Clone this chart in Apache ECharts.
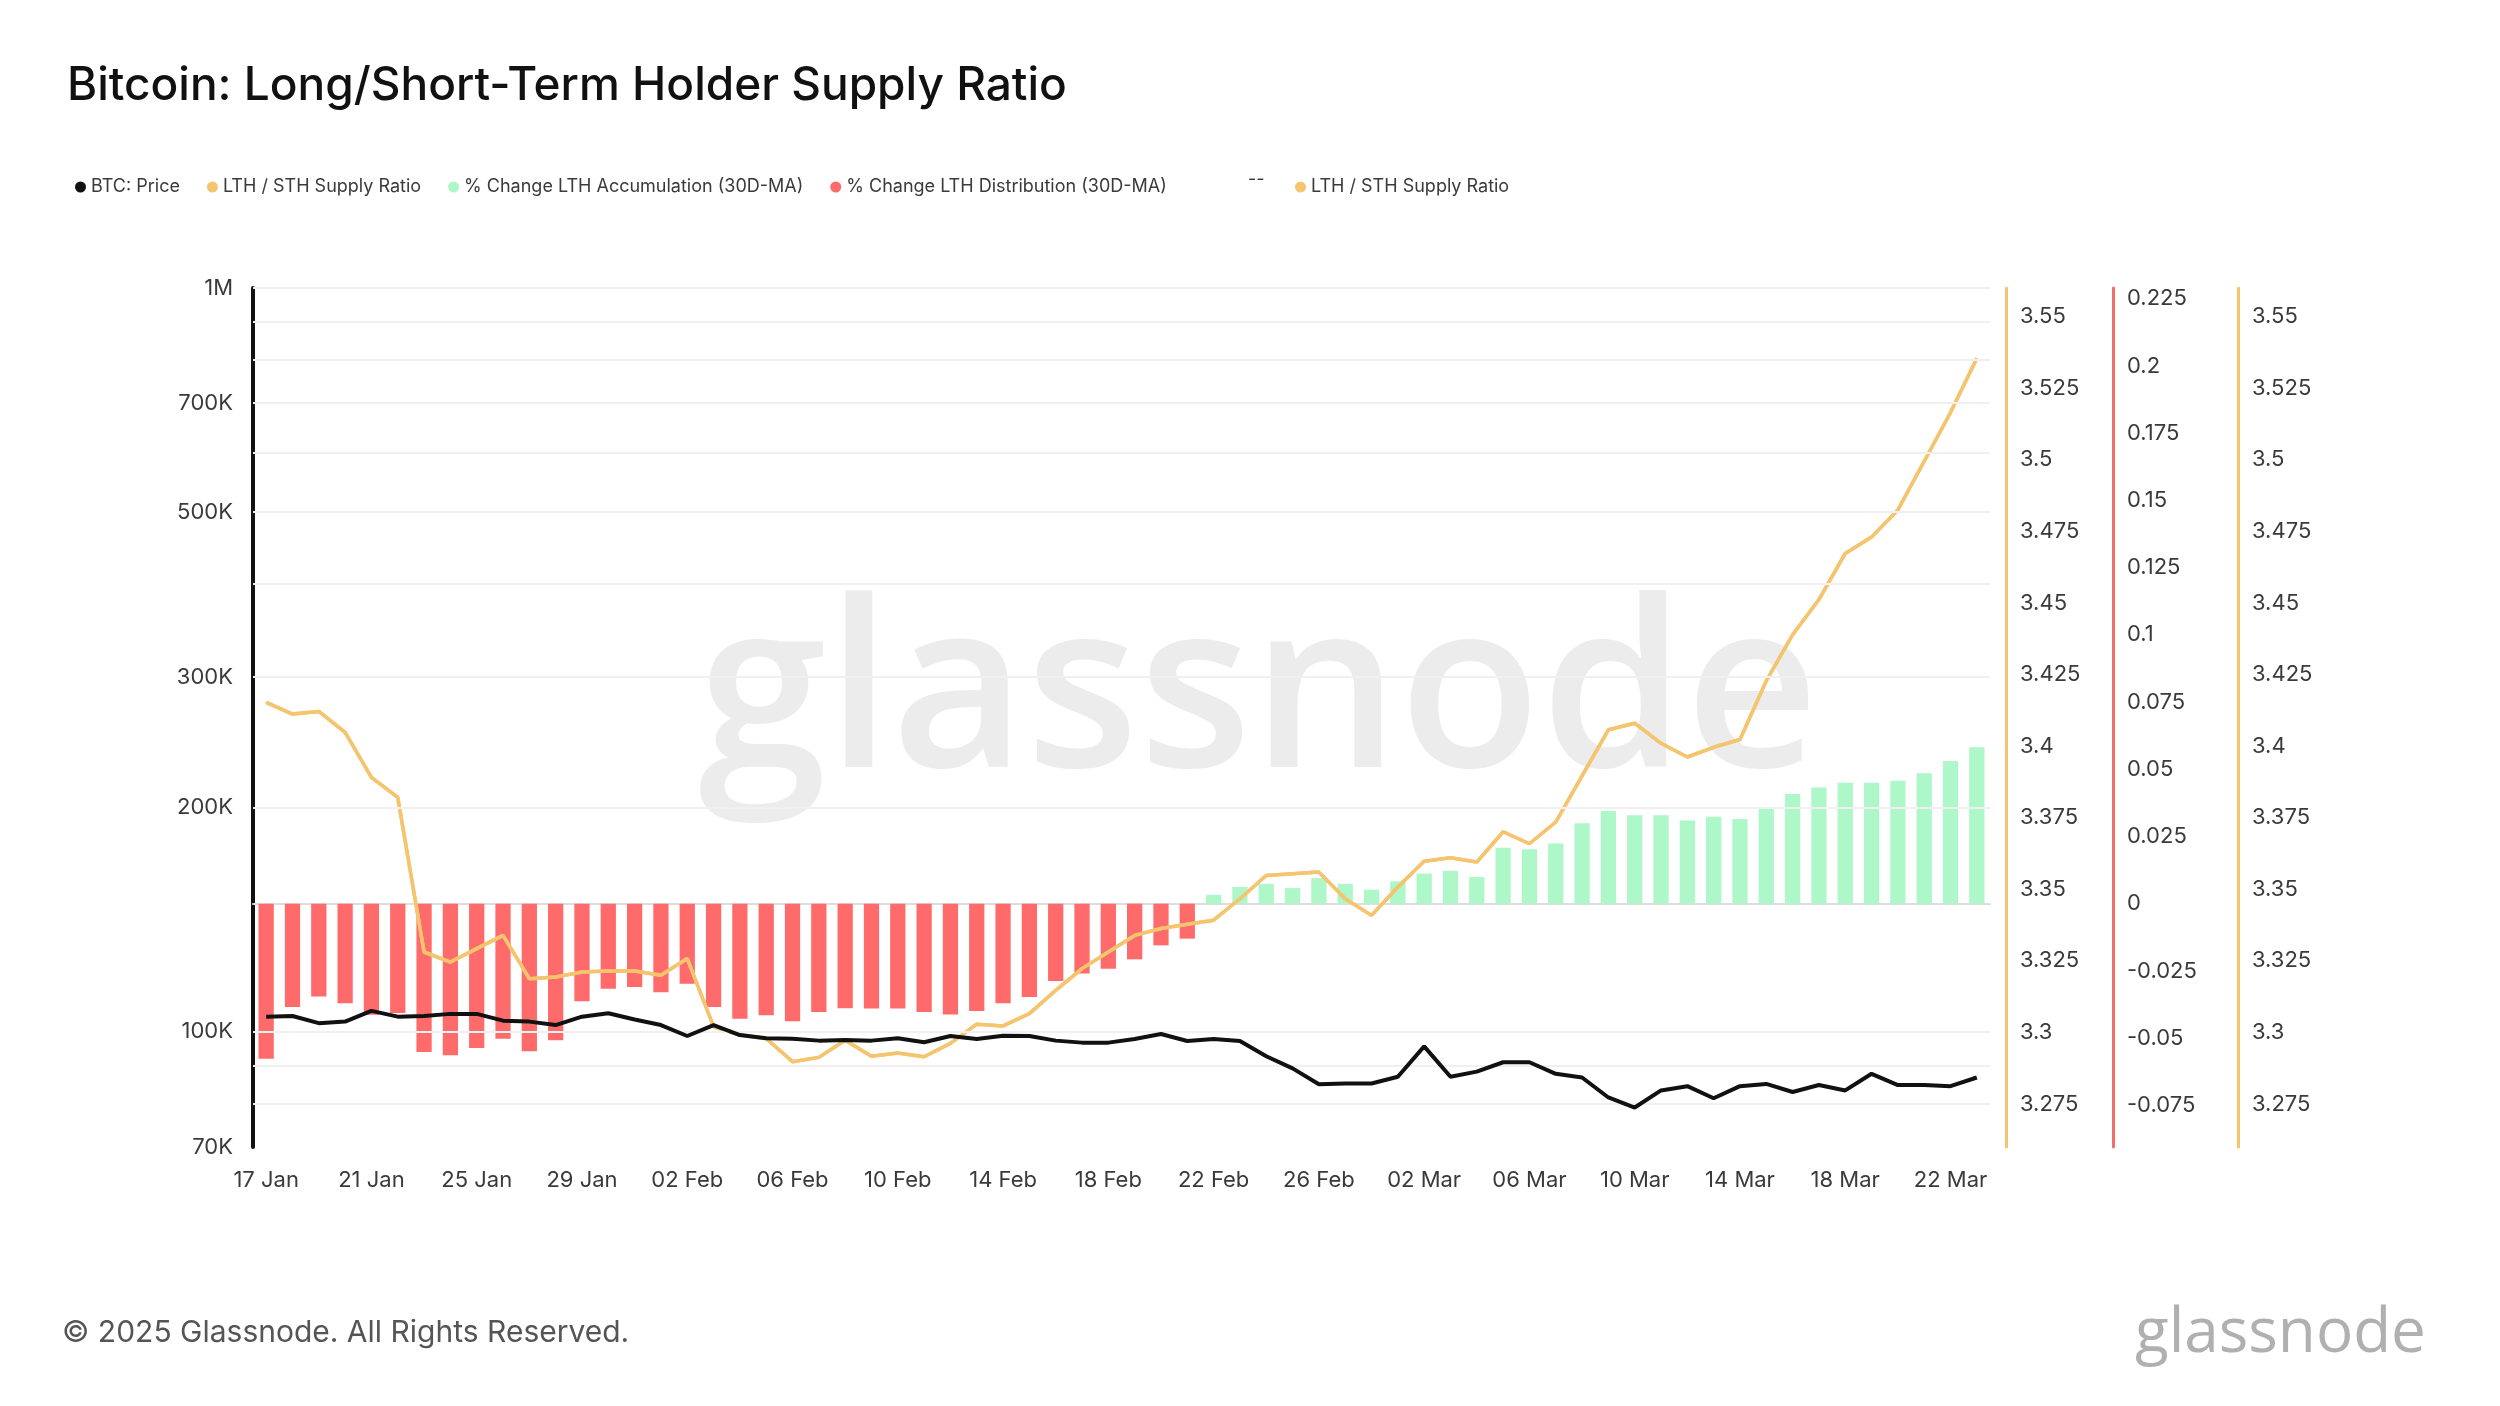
<!DOCTYPE html>
<html><head><meta charset="utf-8">
<script src="https://cdn.jsdelivr.net/npm/echarts@6/dist/echarts.min.js"></script>
<style>html,body{margin:0;padding:0;background:#fff}#c{width:2500px;height:1406px}</style>
</head><body><div id="c"></div>
<script>
const dates = [];
(function(){const m=['Jan','Feb','Mar'];let d=new Date(Date.UTC(2025,0,17));for(let i=0;i<66;i++){dates.push(String(d.getUTCDate()).padStart(2,'0')+' '+m[d.getUTCMonth()]);d.setUTCDate(d.getUTCDate()+1);}})();
const price = [104800,105000,102700,103200,106700,104800,105000,105700,105700,103500,103200,102100,104800,105900,103900,102100,98700,102100,99000,98000,97900,97300,97500,97300,98000,96800,98700,97800,98800,98700,97300,96700,96700,97800,99300,97200,97800,97200,92700,89300,85000,85200,85200,87000,95600,87000,88400,91000,91000,87800,86800,81600,79100,83400,84500,81400,84500,85100,83000,84800,83400,87800,84800,84800,84500,86800];
const ratio = [3.4153,3.4112,3.4121,3.4048,3.3891,3.3821,3.3281,3.3246,3.3293,3.3339,3.3188,3.3194,3.3211,3.3215,3.3215,3.3200,3.3258,3.3020,3.2991,3.2979,3.2898,3.2913,3.2973,3.2917,3.2928,3.2915,3.2962,3.3029,3.3023,3.3066,3.3147,3.3223,3.3281,3.3339,3.3363,3.3378,3.3392,3.3467,3.3548,3.3554,3.3560,3.3467,3.3409,3.3508,3.3598,3.3610,3.3595,3.3701,3.3659,3.3735,3.3896,3.4057,3.4080,3.4010,3.3962,3.3996,3.4023,3.4228,3.4389,3.4512,3.4673,3.4730,3.4825,3.4995,3.5165,3.5355];
const change = [-0.0577,-0.0384,-0.0345,-0.0370,-0.0413,-0.0407,-0.0552,-0.0564,-0.0537,-0.0502,-0.0549,-0.0508,-0.0363,-0.0316,-0.0310,-0.0329,-0.0298,-0.0384,-0.0428,-0.0415,-0.0437,-0.0403,-0.0389,-0.0390,-0.0390,-0.0403,-0.0412,-0.0399,-0.0370,-0.0347,-0.0288,-0.0260,-0.0242,-0.0207,-0.0155,-0.0130,0.0033,0.0062,0.0074,0.0058,0.0095,0.0074,0.0052,0.0083,0.0112,0.0122,0.0099,0.0208,0.0202,0.0224,0.0299,0.0345,0.0329,0.0329,0.0309,0.0323,0.0315,0.0358,0.0408,0.0432,0.0450,0.0450,0.0457,0.0485,0.0531,0.0582];
const priceTicks = [70000,100000,200000,300000,500000,700000,1000000];
const priceGrid = [80000,90000,100000,200000,300000,400000,500000,600000,700000,800000,900000,1000000];
const ratioTicks = [3.275,3.3,3.325,3.35,3.375,3.4,3.425,3.45,3.475,3.5,3.525,3.55];
const changeTicks = [-0.075,-0.05,-0.025,0,0.025,0.05,0.075,0.1,0.125,0.15,0.175,0.2,0.225];

const accum = change.map(v=>v>0?v:null);
const distr = change.map(v=>v<0?v:null);
const YEL='#f5c46e', RED='#ff6b6b', GRN='#adf7c9', TXT='#3a3a3a';
const F='Inter, "Noto Sans", sans-serif';
const fmtP = v => v>=1e6 ? (v/1e6)+'M' : (v/1000)+'K';
const rAxis = (offset,color,min,max,ticks) => ({type:'value',position:'right',offset,min,max,
  axisLine:{show:true,lineStyle:{color,width:3}},axisTick:{show:false},splitLine:{show:false},
  axisLabel:{customValues:ticks,color:TXT,fontSize:22,fontFamily:F,margin:14,formatter:v=>String(+v.toFixed(3))}});
const chart = echarts.init(document.getElementById('c'));
chart.setOption({
  backgroundColor:'#fff', animation:false,
  title:{text:'Bitcoin: Long/Short-Term Holder Supply Ratio',left:62,top:58,textStyle:{fontSize:46,fontWeight:500,color:'#111',fontFamily:F}},
  legend:[{left:70,top:173,itemGap:27,itemWidth:11,itemHeight:11,icon:'circle',textStyle:{fontSize:18,color:TXT,fontFamily:F},
    data:['BTC: Price','LTH / STH Supply Ratio','% Change LTH Accumulation (30D-MA)','% Change LTH Distribution (30D-MA)']},
    {left:1290,top:173,itemWidth:11,itemHeight:11,icon:'circle',textStyle:{fontSize:18,color:TXT,fontFamily:F},data:[{name:'LTH / STH Supply Ratio '}]}],
  graphic:[
    {type:'text',left:1248,top:171,style:{text:'--',fontSize:18,fill:TXT,fontFamily:F}},
    {type:'text',left:698,top:585,z:-10,style:{text:'glassnode',fontSize:232,fill:'#ececec',fontFamily:'"Open Sans", sans-serif',fontWeight:600}},
    {type:'text',left:62,top:1318,style:{text:'© 2025 Glassnode. All Rights Reserved.',fontSize:30,fill:'#555',fontFamily:F}},
    {type:'text',left:2135,top:1303,style:{text:'glassnode',fontSize:62,fill:'#b0b0b0',fontFamily:'"Open Sans", sans-serif',fontWeight:500}}
  ],
  grid:{left:253,right:510,top:288,bottom:259},
  xAxis:{type:'category',data:dates,boundaryGap:true,
    axisLine:{lineStyle:{color:'#ddd',width:2}},axisTick:{interval:3,alignWithLabel:true,lineStyle:{color:'#ddd',width:2},length:8},
    axisLabel:{interval:3,color:TXT,fontSize:22,fontFamily:F,margin:22}},
  yAxis:[
    {type:'log',min:70000,max:1000000,position:'left',axisLine:{show:true,lineStyle:{color:'#111',width:4}},axisTick:{show:false},
      splitLine:{show:false},minorSplitLine:{show:false},
      axisLabel:{customValues:priceTicks,formatter:fmtP,color:TXT,fontSize:22,fontFamily:F,margin:20}},
    rAxis(16,YEL,3.26,3.56,ratioTicks),
    rAxis(123,'#f07070',-0.0905,0.229,changeTicks),
    rAxis(248,YEL,3.26,3.56,ratioTicks)
  ],
  series:[
    {name:'% Change LTH Distribution (30D-MA)',type:'bar',yAxisIndex:2,stack:'c',data:distr,barWidth:'58%',itemStyle:{color:RED},z:1},
    {name:'% Change LTH Accumulation (30D-MA)',type:'bar',yAxisIndex:2,stack:'c',data:accum,barWidth:'58%',itemStyle:{color:GRN},z:1},
    {name:'BTC: Price',type:'line',yAxisIndex:0,data:price,symbol:'none',lineStyle:{color:'#111',width:4},itemStyle:{color:'#111'},z:5,
      markLine:{silent:true,symbol:'none',label:{show:false},lineStyle:{color:'#f0f0f0',width:2,type:'solid'},data:priceGrid.map(v=>({yAxis:v}))}},
    {name:'LTH / STH Supply Ratio',type:'line',yAxisIndex:1,data:ratio,symbol:'none',lineStyle:{color:YEL,width:3.5},itemStyle:{color:YEL},z:4},
    {name:'LTH / STH Supply Ratio ',type:'line',yAxisIndex:3,data:ratio,symbol:'none',lineStyle:{color:YEL,width:3.5},itemStyle:{color:YEL},z:4}
  ]
});
</script></body></html>
